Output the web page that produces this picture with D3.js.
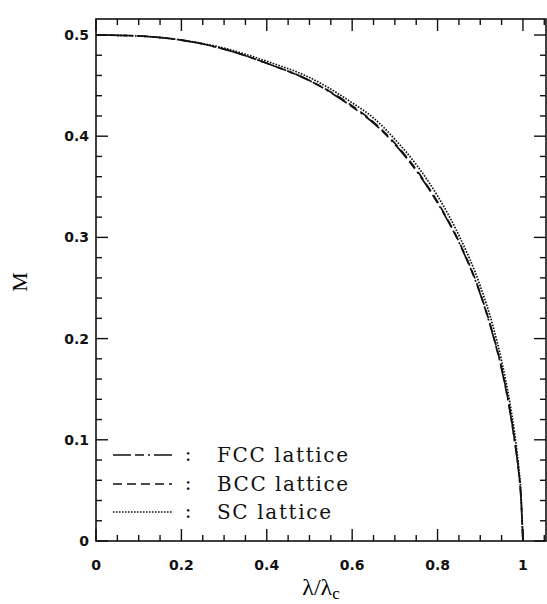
<html>
<head>
  <meta charset="utf-8">
  <title>M vs lambda</title>
  <script src="https://cdn.jsdelivr.net/npm/d3@7"></script>
  <style>
    body { margin: 0; background: #fff; }
    svg { display: block; }
    .tick-label { font-family: 'DejaVu Sans', sans-serif; font-size: 14px; font-weight: bold; fill: #111; }
    .legend-text { font-family: 'DejaVu Serif', serif; font-size: 20px; fill: #111; }
  </style>
</head>
<body>
<div id="chart"></div>
<script>
  // ratio lambda / lambda_c
  const lambdaVals = [0, 0.1, 0.2, 0.3, 0.4, 0.5, 0.6, 0.65, 0.7, 0.75, 0.8, 0.85, 0.9, 0.93, 0.95, 0.97, 0.98, 0.99, 0.995, 1.0]
  const fccM = [0.5, 0.499, 0.495, 0.486, 0.472, 0.455, 0.429, 0.413, 0.392, 0.366, 0.334, 0.295, 0.244, 0.203, 0.170, 0.127, 0.100, 0.068, 0.045, 0]
  const bccM = [0.5, 0.499, 0.495, 0.486, 0.472, 0.455, 0.430, 0.414, 0.393, 0.367, 0.335, 0.296, 0.245, 0.204, 0.171, 0.128, 0.101, 0.069, 0.046, 0]
  const scM = [0.5, 0.499, 0.495, 0.487, 0.474, 0.458, 0.433, 0.418, 0.397, 0.372, 0.341, 0.302, 0.252, 0.212, 0.178, 0.135, 0.108, 0.073, 0.050, 0]

  const seriesNames = ["FCC lattice", "BCC lattice", "SC lattice"]
  const xTicks = [0, 0.2, 0.4, 0.6, 0.8, 1]
  const yTicks = [0, 0.1, 0.2, 0.3, 0.4, 0.5]

  const W = 547, H = 604
  const mLeft = 96, mRight = 546, mTop = 19, mBottom = 541

  const x = d3.scaleLinear().domain([0, 1.054]).range([mLeft, mRight])
  const y = d3.scaleLinear().domain([0, 0.5158]).range([mBottom, mTop])

  const svg = d3.select("#chart").append("svg")
    .attr("width", W).attr("height", H)

  // curves
  const series = [
    { name: seriesNames[0], vals: fccM, dash: "18,4,9,4,2,4" },
    { name: seriesNames[1], vals: bccM, dash: "9,5" },
    { name: seriesNames[2], vals: scM, dash: "1.6,1.4" }
  ]
  const line = d3.line()
    .x((d, i) => x(lambdaVals[i]))
    .y(d => y(d))
    .curve(d3.curveMonotoneX)

  svg.selectAll("path.curve").data(series).join("path")
    .attr("class", "curve")
    .attr("d", d => line(d.vals))
    .attr("fill", "none")
    .attr("stroke", "#111")
    .attr("stroke-width", 1.7)
    .attr("stroke-dasharray", d => d.dash)

  // frame
  svg.append("rect")
    .attr("x", mLeft).attr("y", mTop)
    .attr("width", mRight - mLeft).attr("height", mBottom - mTop)
    .attr("fill", "none").attr("stroke", "#111").attr("stroke-width", 1.6)

  // ticks (inward, all four sides)
  const xMinor = d3.range(0, 1.051, 0.05)
  const yMinor = d3.range(0, 0.5151, 0.02)
  const isMajX = v => Math.abs(v / 0.2 - Math.round(v / 0.2)) < 1e-6
  const isMajY = v => Math.abs(v / 0.1 - Math.round(v / 0.1)) < 1e-6

  const tg = svg.append("g").attr("stroke", "#111").attr("stroke-width", 1.4)
  xMinor.forEach(v => {
    const len = isMajX(v) ? 12 : 6
    tg.append("line").attr("x1", x(v)).attr("x2", x(v)).attr("y1", mBottom).attr("y2", mBottom - len)
    tg.append("line").attr("x1", x(v)).attr("x2", x(v)).attr("y1", mTop).attr("y2", mTop + len)
  })
  yMinor.forEach(v => {
    const len = isMajY(v) ? 12 : 6
    tg.append("line").attr("y1", y(v)).attr("y2", y(v)).attr("x1", mLeft).attr("x2", mLeft + len)
    tg.append("line").attr("y1", y(v)).attr("y2", y(v)).attr("x1", mRight).attr("x2", mRight - len)
  })

  // tick labels
  svg.selectAll("text.xt").data(xTicks).join("text")
    .attr("class", "tick-label xt")
    .attr("x", d => x(d)).attr("y", mBottom + 29)
    .attr("text-anchor", "middle")
    .text(d => d3.format("")(d))

  svg.selectAll("text.yt").data(yTicks).join("text")
    .attr("class", "tick-label yt")
    .attr("x", mLeft - 7).attr("y", d => y(d) + 5)
    .attr("text-anchor", "end")
    .text(d => d3.format("")(d))

  // axis titles
  svg.append("text")
    .attr("transform", `translate(27,${(mTop + mBottom) / 2 + 2}) rotate(-90)`)
    .attr("text-anchor", "middle")
    .attr("font-family", "'Liberation Serif', serif").attr("font-size", 22)
    .text("M")

  const xl = svg.append("text")
    .attr("x", (mLeft + mRight) / 2).attr("y", 595)
    .attr("text-anchor", "middle")
    .attr("font-family", "'Liberation Serif', serif").attr("font-size", 24)
  xl.append("tspan").text("λ/λ")
  xl.append("tspan").attr("font-size", 17).attr("dy", 4).text("c")

  // legend
  const legY = [455, 484, 512]
  const lg = svg.selectAll("g.leg").data(series).join("g").attr("class", "leg")
    .attr("transform", (d, i) => `translate(0,${legY[i]})`)
  lg.append("line")
    .attr("x1", 113).attr("x2", 172).attr("y1", 0).attr("y2", 0)
    .attr("stroke", "#111").attr("stroke-width", 1.7)
    .attr("stroke-dasharray", d => d.dash)
  lg.append("text").attr("class", "legend-text")
    .attr("x", 188).attr("y", 6).attr("text-anchor", "middle").text(":")
  lg.append("text").attr("class", "legend-text")
    .attr("x", 217).attr("y", 7)
    .attr("textLength", (d, i) => [131, 131, 114][i])
    .attr("lengthAdjust", "spacing")
    .text(d => d.name)
</script>
</body>
</html>
